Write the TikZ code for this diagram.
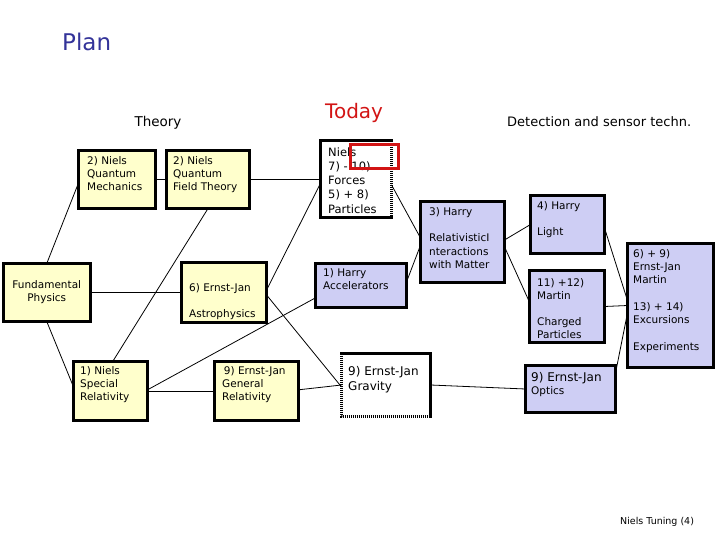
\documentclass[tikz,border=0pt]{standalone}
\usepackage{fontspec}
\setmainfont{DejaVu Sans}
\usetikzlibrary{calc}
\definecolor{plan-blue}{RGB}{51,51,153}
\definecolor{today-red}{RGB}{210,20,20}
\definecolor{theory-yellow}{RGB}{255,255,204}
\definecolor{detect-blue}{RGB}{206,206,244}
\newcommand{\bxfont}{\fontsize{10.5}{13}\selectfont}

\begin{document}
\begin{tikzpicture}[x=1pt, y=-1pt,
  block/.style={draw, line width=3pt, anchor=north west, inner sep=0pt, outer sep=0pt},
  bare/.style={anchor=north west, inner sep=0pt, outer sep=0pt},
  btext/.style={anchor=north west, inner sep=0pt, align=left, font=\bxfont},
  head/.style={anchor=base west, inner sep=0pt},
  link/.style={line width=0.8pt},
  rim/.style={line width=3pt, line cap=rect},
  dotrim/.style={line width=3pt, dash pattern=on 1pt off 1pt},
]
  \useasboundingbox (0,0) rectangle (720,540);

  % Headings
  \node[head, font=\fontsize{23}{28}\selectfont, text=plan-blue] (plan) at (62,51) {Plan};
  \node[anchor=base, inner sep=0pt, font=\fontsize{13.5}{16}\selectfont] (theory) at (158,127) {Theory};
  \node[head, font=\fontsize{20}{24}\selectfont, text=today-red] (today) at (325,119) {Today};
  \node[head, font=\fontsize{13}{16}\selectfont] (detect) at (507,127) {Detection and sensor techn.};
  \node[head, font=\fontsize{9.5}{12}\selectfont] (credit) at (620,524) {Niels Tuning (4)};

  % Theory boxes
  \node[block, fill=theory-yellow, minimum width=77pt, minimum height=58pt] (qm) at (78.5,150.5) {};
  \node[btext] (qm-t) at (87,156) {2) Niels\\Quantum\\Mechanics};
  \node[block, fill=theory-yellow, minimum width=83pt, minimum height=58pt] (qft) at (166.5,150.5) {};
  \node[btext] (qft-t) at (173,156) {2) Niels\\Quantum\\Field Theory};
  \node[block, fill=theory-yellow, minimum width=86.5pt, minimum height=58pt] (fp) at (3.5,263.5) {};
  \node[btext, anchor=center, align=center] (fp-t) at (fp.center) {Fundamental\\Physics};
  \node[block, fill=theory-yellow, minimum width=85pt, minimum height=60pt] (astro) at (181.5,262.5) {};
  \node[btext] (astro-t) at (189,283) {6) Ernst-Jan\\[13pt]Astrophysics};
  \node[block, fill=theory-yellow, minimum width=74pt, minimum height=59pt] (sr) at (73.5,361.5) {};
  \node[btext] (sr-t) at (80,366) {1) Niels\\Special\\Relativity};
  \node[block, fill=theory-yellow, minimum width=84pt, minimum height=59pt] (gr) at (214.5,361.5) {};
  \node[btext] (gr-t) at (222,366) {\,9) Ernst-Jan\\General\\Relativity};

  % Today boxes
  \node[bare, fill=white, minimum width=71pt, minimum height=77pt] (forces) at (320.5,141) {};
  \draw[rim] (forces.north east) -- (forces.north west) -- (forces.south west) -- (forces.south east);
  \draw[dotrim] (forces.north east) -- (forces.south east);
  \node[btext, font=\fontsize{11.5}{14.2}\selectfont] (forces-t) at (328,147.3) {Niels\\7) - 10)\\Forces\\5) + 8)\\Particles};
  \node[draw=today-red, line width=3pt, bare, minimum width=48pt, minimum height=24pt] (mark) at (350.5,144.5) {};
  \node[block, fill=detect-blue, minimum width=91pt, minimum height=44pt] (accel) at (315.5,263.5) {};
  \node[btext] (accel-t) at (323,268) {1) Harry\\Accelerators};
  \node[bare, fill=white, minimum width=89pt, minimum height=63pt] (grav) at (341.5,353.5) {};
  \draw[rim] (grav.north west) -- (grav.north east) -- (grav.south east);
  \draw[dotrim] (grav.north west) -- (grav.south west) -- (grav.south east);
  \node[btext, font=\fontsize{12}{15}\selectfont] (grav-t) at (348,366) {9) Ernst-Jan\\Gravity};

  % Detection boxes
  \node[block, fill=detect-blue, minimum width=84pt, minimum height=81pt] (rel) at (420.5,201.5) {};
  \node[btext, font=\fontsize{10.5}{13.3}\selectfont] (rel-t) at (429,207) {3) Harry\\[13.3pt]RelativisticI\\nteractions\\with Matter};
  \node[block, fill=detect-blue, minimum width=74pt, minimum height=58pt] (light) at (530.5,195.5) {};
  \node[btext] (light-t) at (537,201) {4) Harry\\[13pt]Light};
  \node[block, fill=detect-blue, minimum width=75pt, minimum height=72pt] (charged) at (529.5,270.5) {};
  \node[btext] (charged-t) at (537,278) {11) +12)\\Martin\\[13pt]Charged\\Particles};
  \node[block, fill=detect-blue, minimum width=86pt, minimum height=124pt] (big) at (627.5,243.5) {};
  \node[btext, font=\fontsize{10.5}{13.3}\selectfont] (big-t) at (633,249) {6) + 9)\\Ernst-Jan\\Martin\\[13.3pt]13) + 14)\\Excursions\\[13.3pt]Experiments};
  \node[block, fill=detect-blue, minimum width=90pt, minimum height=47pt] (optics) at (525.5,365.5) {};
  \node[btext] (optics-t) at (531,372) {{\fontsize{12}{13}\selectfont 9) Ernst-Jan}\\Optics};

  % Connections
  \draw[link] ($(qm.north west)!.56!(qm.south west)$) -- (fp.north);
  \draw[link] (qm.east) -- (qft.west);
  \draw[link] (qft.east) -- (forces.west);
  \draw[link] (qft.south) -- ($(sr.north west)!.53!(sr.north east)$);
  \draw[link] (fp.east) -- (astro.west);
  \draw[link] (fp.south) -- ($(sr.north west)!.43!(sr.south west)$);
  \draw[link] ($(astro.north east)!.46!(astro.south east)$) -- ($(forces.north west)!.55!(forces.south west)$);
  \draw[link] ($(astro.north east)!.54!(astro.south east)$) -- ($(grav.north west)!.53!(grav.south west)$);
  \draw[link] ($(sr.north east)!.48!(sr.south east)$) -- ($(accel.north west)!.78!(accel.south west)$);
  \draw[link] (sr.east) -- (gr.west);
  \draw[link] ($(gr.north east)!.48!(gr.south east)$) -- (grav.west);
  \draw[link] ($(forces.north east)!.57!(forces.south east)$) -- ($(rel.north west)!.45!(rel.south west)$);
  \draw[link] ($(rel.north west)!.54!(rel.south west)$) -- ($(accel.north east)!.42!(accel.south east)$);
  \draw[link] ($(rel.north east)!.475!(rel.south east)$) -- (light.west);
  \draw[link] ($(rel.north east)!.56!(rel.south east)$) -- ($(charged.north west)!.44!(charged.south west)$);
  \draw[link] ($(light.north east)!.56!(light.south east)$) -- ($(big.north west)!.46!(big.south west)$);
  \draw[link] (charged.east) -- (big.west);
  \draw[link] ($(optics.north east)!.16!(optics.south east)$) -- ($(big.north west)!.56!(big.south west)$);
  \draw[link] (grav.east) -- (optics.west);
\end{tikzpicture}
\end{document}
